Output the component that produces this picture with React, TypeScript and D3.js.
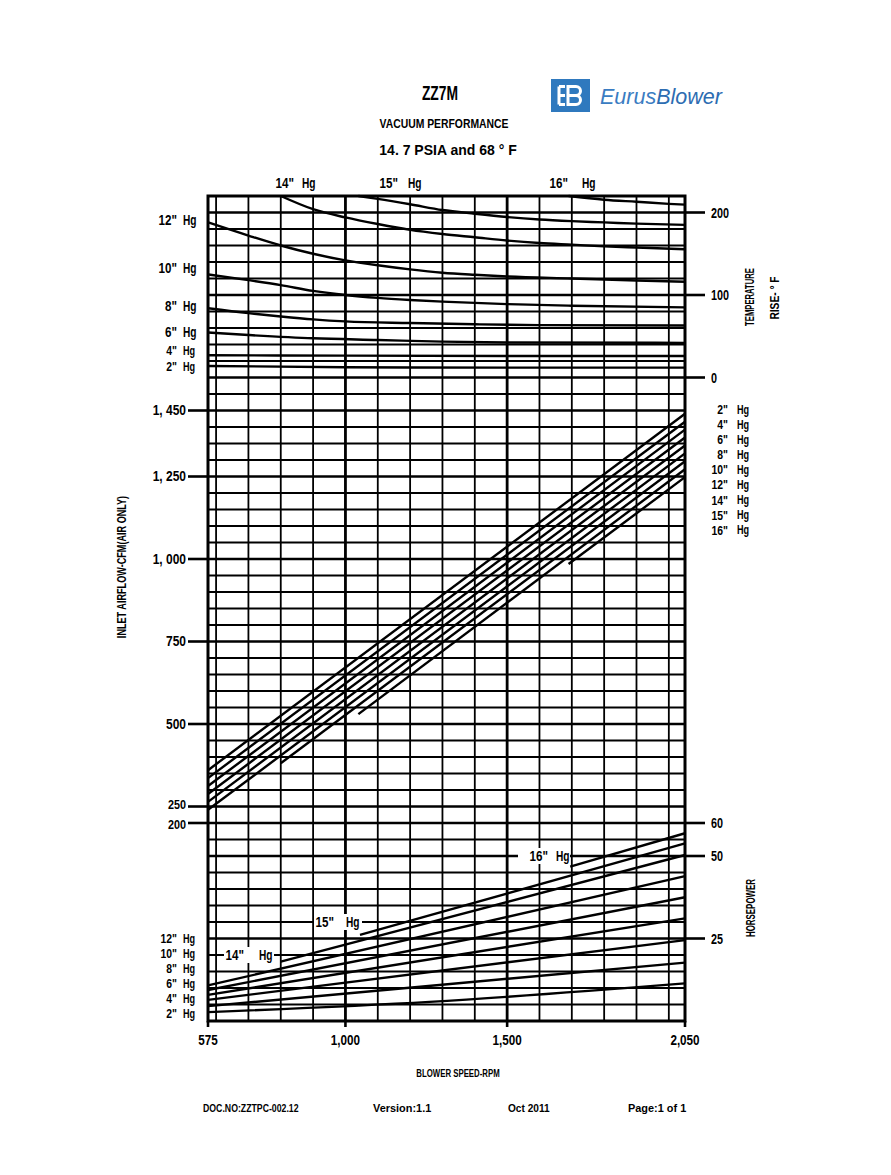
import * as d3 from "d3";

const W = 891;
const H = 1175;
const FONT = "'Liberation Sans', Arial, sans-serif";

// blower speed axis (rpm)
const rpmTicks = [575, 1000, 1500, 2050];
const rpmTickLabels = ["575", "1,000", "1,500", "2,050"];
const rpmGrid = d3.range(600, 2001, 100);

// value axes
const tempTicks = [200, 100, 0];
const tempTickLabels = ["200", "100", "0"];
const cfmTicks = [1450, 1250, 1000, 750, 500, 250, 200];
const cfmTickLabels = ["1, 450", "1, 250", "1, 000", "750", "500", "250", "200"];
const hpTicks = [60, 50, 25];
const hpTickLabels = ["60", "50", "25"];

// vacuum levels, inches Hg
const vacuum = ['2"', '4"', '6"', '8"', '10"', '12"', '14"', '15"', '16"'];

// temperature rise (°F) vs rpm
const temp2 = [[575, 14], [1000, 12.5], [1500, 12], [2050, 12]];
const temp4 = [[575, 27], [1000, 26.5], [1500, 26], [2050, 26]];
const temp6 = [[575, 54.5], [700, 51.5], [900, 47.5], [1100, 45.5], [1300, 43.5], [1500, 42.5], [2050, 42]];
const temp8 = [[575, 84], [700, 78], [800, 74], [900, 70.5], [1000, 68], [1200, 66], [1400, 64.5], [1600, 63.5], [2050, 63]];
const temp10 = [[575, 125], [700, 118], [800, 112], [900, 105], [1000, 100], [1100, 96.5], [1200, 94], [1300, 92], [1500, 89], [1700, 87], [2050, 85]];
const temp12 = [[575, 188], [700, 172], [800, 160], [900, 150], [1000, 142], [1100, 136], [1200, 131], [1300, 127], [1400, 124.5], [1500, 122.5], [1700, 120], [1900, 117.5], [2050, 116]];
const temp14 = [[800, 220], [900, 204], [1000, 194], [1100, 186], [1200, 179], [1300, 174], [1400, 170], [1500, 166], [1600, 163], [1700, 161], [1800, 159], [1900, 157.5], [2050, 155.5]];
const temp15 = [[1040, 220], [1100, 216.5], [1200, 210], [1300, 203], [1400, 198.5], [1500, 194.5], [1600, 191.5], [1700, 189.5], [1800, 188], [1900, 186.5], [2050, 185]];
const temp16 = [[1690, 220], [1800, 215.5], [1900, 213], [2000, 210.5], [2050, 209.5]];

// inlet airflow (cfm) vs rpm
const cfm2 = [[575, 360], [2050, 1440]];
const cfm4 = [[575, 336], [2050, 1416]];
const cfm6 = [[575, 312], [2050, 1392]];
const cfm8 = [[575, 288], [2050, 1368]];
const cfm10 = [[575, 264], [2050, 1344]];
const cfm12 = [[575, 240], [2050, 1320]];
const cfm14 = [[800, 381], [2050, 1296]];
const cfm15 = [[1040, 530], [2050, 1272]];
const cfm16 = [[1690, 985], [2050, 1248]];

// horsepower vs rpm
const hp2 = [[575, 2.7], [1260, 5.8], [2050, 11.4]];
const hp4 = [[575, 4.5], [2050, 17.7]];
const hp6 = [[575, 6.4], [2050, 24.5]];
const hp8 = [[575, 7.9], [2050, 31.1]];
const hp10 = [[575, 9.4], [2050, 37.5]];
const hp12 = [[575, 10.8], [2050, 43.9]];
const hp14 = [[800, 18.0], [2050, 50.3]];
const hp15 = [[1045, 26.1], [2050, 53.8]];
const hp16 = [[1695, 46.8], [2050, 56.9]];

const tempCurves = [temp2, temp4, temp6, temp8, temp10, temp12, temp14, temp15, temp16];
const cfmLines = [cfm2, cfm4, cfm6, cfm8, cfm10, cfm12, cfm14, cfm15, cfm16];
const hpLines = [hp2, hp4, hp6, hp8, hp10, hp12, hp14, hp15, hp16];

// plot frame and the shared 50-row grid
const PLOT = { left: 208, right: 685, top: 196, bottom: 1021 };
const ROWS = 50;
const row = d3.scaleLinear().domain([0, ROWS]).range([PLOT.top, PLOT.bottom]);
const x = d3.scaleLinear().domain([575, 2050]).range([PLOT.left, PLOT.right]);
const yTemp = d3.scaleLinear().domain([220, 0]).range([row(0), row(11)]);
const yCfm = d3.scaleLinear().domain([2100, 200]).range([row(0), row(38)]);
const yHp = d3.scaleLinear().domain([60, 0]).range([row(38), row(50)]);

const tempLine = d3.line<number[]>().x(d => x(d[0])).y(d => yTemp(d[1])).curve(d3.curveMonotoneX);
const cfmLine = d3.line<number[]>().x(d => x(d[0])).y(d => yCfm(d[1]));
const hpLine = d3.line<number[]>().x(d => x(d[0])).y(d => yHp(d[1])).curve(d3.curveMonotoneX);

// label placement
const tempLeftLabelY = [366, 350, 332, 306, 268, 220]; // 2".. 12"
const hpLeftLabelY = [1013, 998, 983, 968, 953, 938]; // 2".. 12"
const topEntryLabels = [
  { i: 6, end: 294, hg: 302 },
  { i: 7, end: 398, hg: 408 },
  { i: 8, end: 568, hg: 582 },
];
const hpInlineLabels = [
  { i: 6, end: 244, hg: 259, hp: 20, box: [224, 274] },
  { i: 7, end: 334, hg: 346, hp: 30, box: [314, 362] },
  { i: 8, end: 548, hg: 556, hp: 50, box: [518, 570] },
];

type TP = {
  x: number; y: number; size?: number; sx?: number; anchor?: string;
  rotate?: number; fill?: string; weight?: number; children: any;
};

function T({ x, y, size = 13, sx = 0.8, anchor = "start", rotate = 0, fill = "#000", weight = 700, children }: TP) {
  const tf = `translate(${x},${y})${rotate ? ` rotate(${rotate})` : ""} scale(${sx},1)`;
  return (
    <text transform={tf} fontSize={size} textAnchor={anchor} dominantBaseline="central"
      fontFamily={FONT} fontWeight={weight} fill={fill} style={{ whiteSpace: "pre" }}>
      {children}
    </text>
  );
}

function VacLabel({ label, end, hg, y, size = 14.5 }: { label: string; end: number; hg: number; y: number; size?: number }) {
  return (
    <g>
      <T x={end} y={y} anchor="end" size={size} sx={0.8}>{label}</T>
      <T x={hg} y={y} size={size} sx={0.7}>Hg</T>
    </g>
  );
}

export default function App() {
  const key = (v: number) => Math.round(v * 4);
  const majorRows = new Set(
    [...tempTicks.map(yTemp), ...cfmTicks.map(yCfm), ...hpTicks.map(yHp)].map(key)
  );
  const rowYs = d3.range(ROWS + 1).map(row);

  return (
    <svg width={W} height={H} style={{ position: "absolute", left: 0, top: 0, background: "#fff" }}>
      <rect width={W} height={H} fill="#fff" />

      {/* header */}
      <T x={440} y={93} size={21} sx={0.66} anchor="middle">ZZ7M</T>
      <T x={444} y={124} size={13.5} sx={0.77} anchor="middle">VACUUM PERFORMANCE</T>
      <T x={448} y={150} size={14} sx={1.0} anchor="middle">14. 7 PSIA and 68 ° F</T>

      <g transform="translate(551,79)">
        <rect width={39} height={33} fill="#2f79be" />
        <path d="M8,7.5 V25.5 M8,7.5 H14 M8,16.5 H14 M8,25.5 H14 M17,7.5 H25 A4.5,4.5 0 0 1 25,16.5 A4.5,4.5 0 0 1 25,25.5 H17 Z M17,16.5 H25"
          fill="none" stroke="#fff" strokeWidth={3} />
      </g>
      <text x={600} y={104} fontFamily={FONT} fontSize={21.5} fontStyle="italic" fill="#3a7cc2">
        Eurus<tspan fill="#2d6db2">Blower</tspan>
      </text>

      {/* grid rows */}
      {rowYs.map((y, i) => {
        const major = majorRows.has(key(y));
        return (
          <line key={`r${i}`} x1={PLOT.left} x2={PLOT.right} y1={y} y2={y}
            stroke="#000" strokeWidth={major ? 2.6 : 1.8} />
        );
      })}

      {/* grid columns */}
      {rpmGrid.map(v => (
        <line key={`c${v}`} x1={x(v)} x2={x(v)} y1={PLOT.top} y2={PLOT.bottom}
          stroke="#000" strokeWidth={v === 1000 || v === 1500 ? 2.8 : 1.8} />
      ))}

      {/* frame */}
      <rect x={PLOT.left} y={PLOT.top} width={PLOT.right - PLOT.left} height={PLOT.bottom - PLOT.top}
        fill="none" stroke="#000" strokeWidth={3} />

      {/* axis ticks */}
      {cfmTicks.map((v, i) => (
        <g key={`cf${v}`}>
          <line x1={188} x2={PLOT.left} y1={yCfm(v)} y2={yCfm(v)} stroke="#000" strokeWidth={2.6} />
          <T x={186} y={yCfm(v) + (v === 250 ? -2 : v === 200 ? 1.5 : 0)} anchor="end" size={v <= 250 ? 13.5 : 15} sx={0.8}>
            {cfmTickLabels[i]}
          </T>
        </g>
      ))}
      {tempTicks.map((v, i) => (
        <g key={`tp${v}`}>
          <line x1={PLOT.right} x2={705} y1={yTemp(v)} y2={yTemp(v)} stroke="#000" strokeWidth={2.6} />
          <T x={711} y={yTemp(v)} size={15} sx={0.72}>{tempTickLabels[i]}</T>
        </g>
      ))}
      {hpTicks.map((v, i) => (
        <g key={`hp${v}`}>
          <line x1={PLOT.right} x2={705} y1={yHp(v)} y2={yHp(v)} stroke="#000" strokeWidth={2.6} />
          <T x={711} y={yHp(v)} size={15} sx={0.72}>{hpTickLabels[i]}</T>
        </g>
      ))}
      {rpmTicks.map((v, i) => (
        <g key={`rp${v}`}>
          <line x1={x(v)} x2={x(v)} y1={PLOT.bottom} y2={PLOT.bottom + 6} stroke="#000" strokeWidth={2.6} />
          <T x={x(v)} y={1040} anchor="middle" size={15} sx={0.78}>{rpmTickLabels[i]}</T>
        </g>
      ))}

      {/* label boxes inside the horsepower panel */}
      {hpInlineLabels.map(l => (
        <rect key={`bx${l.i}`} x={l.box[0]} y={yHp(l.hp) - 8} width={l.box[1] - l.box[0]} height={16} fill="#fff" />
      ))}

      {/* curves */}
      <g fill="none" stroke="#000" strokeWidth={2.4}>
        {tempCurves.map((d, i) => <path key={`t${i}`} d={tempLine(d) || ""} />)}
        {cfmLines.map((d, i) => <path key={`a${i}`} d={cfmLine(d) || ""} />)}
        {hpLines.map((d, i) => <path key={`h${i}`} d={hpLine(d) || ""} />)}
      </g>

      {/* vacuum labels */}
      {tempLeftLabelY.map((y, i) => (
        <VacLabel key={`tl${i}`} label={vacuum[i]} end={177} hg={183} y={y} size={i < 2 ? 13 : 14.5} />
      ))}
      {topEntryLabels.map(l => (
        <VacLabel key={`te${l.i}`} label={vacuum[l.i]} end={l.end} hg={l.hg} y={183} />
      ))}
      {vacuum.map((v, i) => (
        <VacLabel key={`mr${i}`} label={v} end={728} hg={737} y={409 + i * 15.1} size={13} />
      ))}
      {hpLeftLabelY.map((y, i) => (
        <VacLabel key={`hl${i}`} label={vacuum[i]} end={177} hg={183} y={y} size={13} />
      ))}
      {hpInlineLabels.map(l => (
        <VacLabel key={`hi${l.i}`} label={vacuum[l.i]} end={l.end} hg={l.hg} y={yHp(l.hp)} />
      ))}

      {/* axis titles */}
      <T x={121} y={567} rotate={-90} anchor="middle" size={12} sx={0.76}>INLET AIRFLOW-CFM(AIR ONLY)</T>
      <T x={750} y={297} rotate={-90} anchor="middle" size={12} sx={0.64}>TEMPERATURE</T>
      <T x={775} y={298} rotate={-90} anchor="middle" size={12} sx={0.85}>RISE- ° F</T>
      <T x={751} y={908} rotate={-90} anchor="middle" size={12} sx={0.66}>HORSEPOWER</T>
      <T x={458} y={1073} anchor="middle" size={11.5} sx={0.68}>BLOWER SPEED-RPM</T>

      {/* footer */}
      <T x={203} y={1108} size={11.5} sx={0.76}>DOC.NO:ZZTPC-002.12</T>
      <T x={373} y={1108} size={11.5} sx={0.95}>Version:1.1</T>
      <T x={508} y={1108} size={11.5} sx={0.88}>Oct 2011</T>
      <T x={628} y={1108} size={11.5} sx={0.95}>Page:1 of 1</T>
    </svg>
  );
}
